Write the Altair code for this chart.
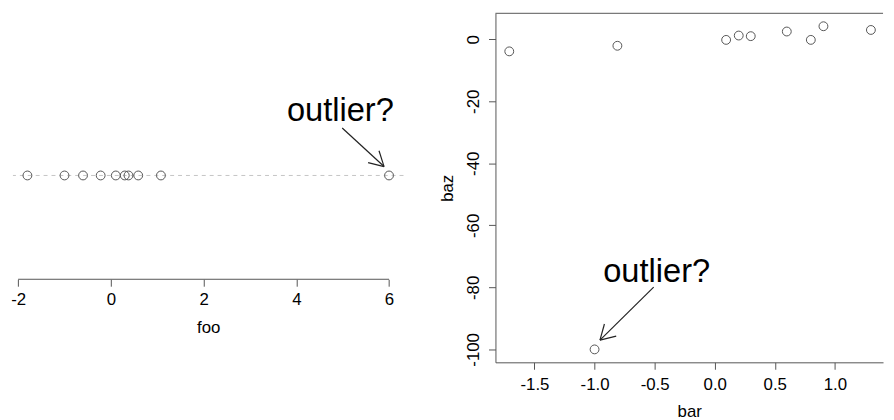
import altair as alt
import pandas as pd

# ---- data ----
foo = [-1.80, -1.00, -0.60, -0.22, 0.107, 0.30, 0.38, 0.59, 1.08, 6.0]
bar = [-1.71, -0.81, 0.095, 0.20, 0.30, 0.60, 0.80, 0.905, 1.30, -1.0]
baz = [-3.9, -2.1, -0.2, 1.2, 1.0, 2.5, -0.2, 4.2, 3.0, -100.0]

foo_ticks = [-2, 0, 2, 4, 6]
bar_ticks = [-1.5, -1.0, -0.5, 0.0, 0.5, 1.0]
baz_ticks = [-100, -80, -60, -40, -20, 0]

foo_lim = [-2.112, 6.312]
strip_lim = [0.5, 1.781]
bar_lim = [-1.825, 1.401]
baz_lim = [-104.17, 8.37]

# annotation (data coordinates)
left_note = {"x": [4.95], "y": [1.262], "t": ["outlier?"]}
left_arrow = {"x": [4.990, 5.893, 5.893], "y": [1.2286, 1.0429, 1.0429],
              "xe": [5.893, 5.549, 5.784], "ye": [1.0429, 1.0619, 1.1191]}
right_note = {"x": [-0.483], "y": [-78.2], "t": ["outlier?"]}
right_arrow = {"x": [-0.508, -0.955, -0.955], "y": [-79.9, -97.0, -97.0],
               "xe": [-0.955, -0.918, -0.820], "ye": [-97.0, -91.8, -95.7]}

FONT = "Liberation Sans"
LINE = "#555555"
PT = "#555555"

hyph = "datum.value < 0 ? '-' + format(-datum.value, '{f}') : format(datum.value, '{f}')"

# ---- left panel: strip chart ----
xl = alt.Scale(domain=foo_lim, nice=False, zero=False)
yl = alt.Scale(domain=strip_lim, nice=False, zero=False)

foo_df = pd.DataFrame({"foo": foo, "row": [1] * len(foo)})

dash = alt.Chart(pd.DataFrame({"row": [1]})).mark_rule(
    color="#c4c4c4", strokeDash=[4, 4], strokeWidth=1
).encode(y=alt.Y("row:Q", scale=yl, axis=None))

pts_l = alt.Chart(foo_df).mark_point(
    shape="circle", filled=False, size=80, stroke=PT, strokeWidth=1, opacity=1
).encode(
    x=alt.X("foo:Q", scale=xl, title="foo",
            axis=alt.Axis(values=foo_ticks, domain=False, grid=False,
                          tickColor=LINE, tickSize=7, tickWidth=1,
                          labelExpr=hyph.format(f="d"), labelFont=FONT,
                          labelFontSize=17, labelColor="#000", labelPadding=6,
                          labelFlush=False,
                          titleFont=FONT, titleFontSize=17, titleFontWeight="normal",
                          titleColor="#000", titlePadding=12)),
    y=alt.Y("row:Q", scale=yl, axis=None),
)

axis_line = alt.Chart(pd.DataFrame({"a": [foo_ticks[0]], "b": [foo_ticks[-1]],
                                    "lo": [strip_lim[0]]})).mark_rule(
    color=LINE, strokeWidth=1
).encode(x=alt.X("a:Q", scale=xl), x2=alt.X2("b"), y=alt.Y("lo:Q", scale=yl, axis=None))

note_l = alt.Chart(pd.DataFrame(left_note)).mark_text(
    font=FONT, fontSize=33, color="#000", align="center", baseline="alphabetic"
).encode(x=alt.X("x:Q", scale=xl), y=alt.Y("y:Q", scale=yl, axis=None), text=alt.Text("t:N"))

arrow_l = alt.Chart(pd.DataFrame(left_arrow)).mark_rule(
    color="#222", strokeWidth=1.2
).encode(x=alt.X("x:Q", scale=xl), y=alt.Y("y:Q", scale=yl, axis=None),
         x2=alt.X2("xe"), y2=alt.Y2("ye"))

left = alt.layer(dash, axis_line, pts_l, arrow_l, note_l).properties(
    width=395, height=269
)

# ---- right panel: scatter ----
xr = alt.Scale(domain=bar_lim, nice=False, zero=False)
yr = alt.Scale(domain=baz_lim, nice=False, zero=False)

sc_df = pd.DataFrame({"bar": bar, "baz": baz})

pts_r = alt.Chart(sc_df).mark_point(
    shape="circle", filled=False, size=80, stroke=PT, strokeWidth=1, opacity=1
).encode(
    x=alt.X("bar:Q", scale=xr, title="bar",
            axis=alt.Axis(values=bar_ticks, grid=False, domainColor=LINE,
                          tickColor=LINE, tickSize=7, labelExpr=hyph.format(f=".1f"),
                          labelFont=FONT, labelFontSize=17, labelColor="#000",
                          labelPadding=7, labelOverlap=False, labelFlush=False,
                          titleFont=FONT, titleFontSize=17, titleFontWeight="normal",
                          titleColor="#000", titlePadding=12)),
    y=alt.Y("baz:Q", scale=yr, title="baz",
            axis=alt.Axis(values=baz_ticks, grid=False, domainColor=LINE,
                          tickColor=LINE, tickSize=7, labelExpr=hyph.format(f="d"),
                          labelAngle=270, labelFont=FONT, labelFontSize=17,
                          labelColor="#000", labelPadding=6, labelOverlap=False,
                          labelFlush=False,
                          titleFont=FONT, titleFontSize=17, titleFontWeight="normal",
                          titleColor="#000", titlePadding=8)),
)

top_edge = alt.Chart(pd.DataFrame({"t": [baz_lim[1]]})).mark_rule(
    color=LINE, strokeWidth=1
).encode(y=alt.Y("t:Q", scale=yr, title="baz"))

note_r = alt.Chart(pd.DataFrame(right_note)).mark_text(
    font=FONT, fontSize=33, color="#000", align="center", baseline="alphabetic"
).encode(x=alt.X("x:Q", scale=xr, title="bar"), y=alt.Y("y:Q", scale=yr, title="baz"),
         text=alt.Text("t:N"))

arrow_r = alt.Chart(pd.DataFrame(right_arrow)).mark_rule(
    color="#222", strokeWidth=1.2
).encode(x=alt.X("x:Q", scale=xr, title="bar"), y=alt.Y("y:Q", scale=yr, title="baz"),
         x2=alt.X2("xe"), y2=alt.Y2("ye"))

right = alt.layer(top_edge, pts_r, arrow_r, note_r).properties(
    width=392, height=353
)

chart = alt.hconcat(left, right, spacing=93, bounds="flush").properties(
    padding=2,
    background="white",
).configure_axis(domainWidth=1).configure_view(strokeWidth=0)

chart.save("out.html", embed_options={"renderer": "svg", "actions": False})
